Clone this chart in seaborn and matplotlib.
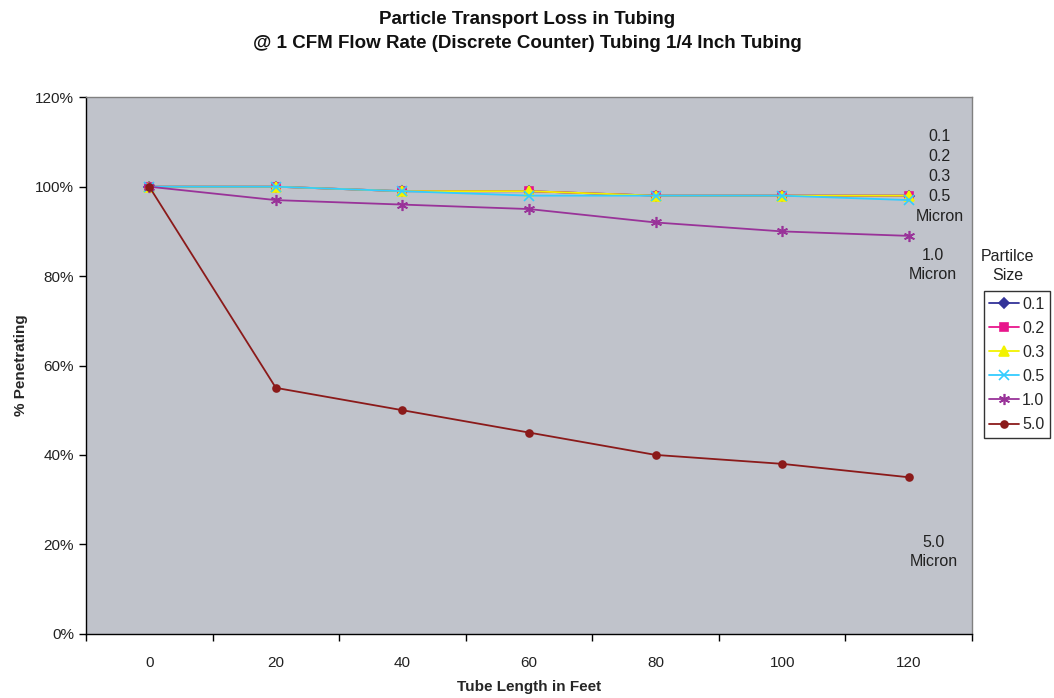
#!/usr/bin/env python3

import matplotlib

matplotlib.use("Agg")
import matplotlib.pyplot as plt
import seaborn as sns
import pandas as pd

sns.set_style("ticks")
plt.rcParams["font.family"] = ["Liberation Sans", "DejaVu Sans"]

# data
tube_length = [0, 20, 40, 60, 80, 100, 120]
size_labels = ["0.1", "0.2", "0.3", "0.5", "1.0", "5.0"]
pen_01 = [100, 100, 99, 99, 98, 98, 98]
pen_02 = [100, 100, 99, 99, 98, 98, 98]
pen_03 = [100, 100, 99, 99, 98, 98, 98]
pen_05 = [100, 100, 99, 98, 98, 98, 97]
pen_10 = [100, 97, 96, 95, 92, 90, 89]
pen_50 = [100, 55, 50, 45, 40, 38, 35]

series = [pen_01, pen_02, pen_03, pen_05, pen_10, pen_50]
colors = ["#333399", "#E8168C", "#F2F200", "#33CCFF", "#993399", "#8B1A1A"]
markers = ["D", "s", "^", "x", (6, 2, 0), "o"]
msizes = [5, 6, 7, 7, 8, 5]

df = pd.DataFrame(
    {
        "length": tube_length * len(series),
        "pen": [v for s in series for v in s],
        "size": [lab for lab in size_labels for _ in tube_length],
    }
)

fig = plt.figure(figsize=(10.54, 6.98), dpi=100)
ax = fig.add_axes([0.0816, 0.0921, 0.8406, 0.7685])
ax.set_facecolor("#C0C3CB")

for lab, col, mk, ms in zip(size_labels, colors, markers, msizes):
    sub = df[df["size"] == lab]
    sns.lineplot(
        data=sub,
        x="length",
        y="pen",
        color=col,
        marker=mk,
        markersize=ms,
        markeredgecolor=col,
        markeredgewidth=1.2,
        linewidth=1.3,
        label=lab,
        ax=ax,
    )

ax.set_xlim(-10, 130)
ax.set_ylim(0, 120)
ax.set_xticks(tube_length)
ax.set_xticks(range(-10, 131, 20), minor=True)
ax.set_yticks(range(0, 121, 20))
ax.set_yticklabels([f"{v}%" for v in range(0, 121, 20)])
ax.tick_params(axis="x", which="major", length=0, pad=16, labelsize=11,
               labelcolor="#222222")
ax.tick_params(axis="x", which="minor", length=5, width=1, color="black")
ax.tick_params(axis="y", length=5, width=1, color="black", labelsize=11,
               labelcolor="#222222")

for side in ["top", "right"]:
    ax.spines[side].set_color("#808080")
    ax.spines[side].set_linewidth(1)
for side in ["left", "bottom"]:
    ax.spines[side].set_color("black")
    ax.spines[side].set_linewidth(1)

ax.set_xlabel("Tube Length in Feet", fontsize=11, fontweight="bold", labelpad=7)
ax.set_ylabel("% Penetrating", fontsize=11, fontweight="bold", labelpad=5)

fig.suptitle(
    "Particle Transport Loss in Tubing\n"
    "@ 1 CFM Flow Rate (Discrete Counter) Tubing 1/4 Inch Tubing",
    fontsize=13.5,
    fontweight="bold",
    y=0.984,
    linespacing=1.5,
    color="#111111",
)

ax.text(124.9, 102.3, "0.1\n0.2\n0.3\n0.5\nMicron", ha="center", va="center",
        fontsize=11.5, linespacing=1.43, color="#222222")
ax.text(123.8, 82.4, "1.0\nMicron", ha="center", va="center",
        fontsize=11.5, linespacing=1.35, color="#222222")
ax.text(123.9, 18.3, "5.0\nMicron", ha="center", va="center",
        fontsize=11.5, linespacing=1.4, color="#222222")

fig.text(0.956, 0.619, "Partilce\nSize", ha="center", va="center",
         fontsize=11.5, linespacing=1.4, color="#222222")

leg = ax.legend(
    loc="upper left",
    bbox_to_anchor=(0.9335, 0.583),
    bbox_transform=fig.transFigure,
    frameon=True,
    fancybox=False,
    edgecolor="black",
    fontsize=11.5,
    handlelength=1.85,
    handletextpad=0.2,
    labelspacing=0.57,
    borderpad=0.35,
    borderaxespad=0,
)
leg.get_frame().set_linewidth(1)

fig.savefig("out.png", dpi=100)
